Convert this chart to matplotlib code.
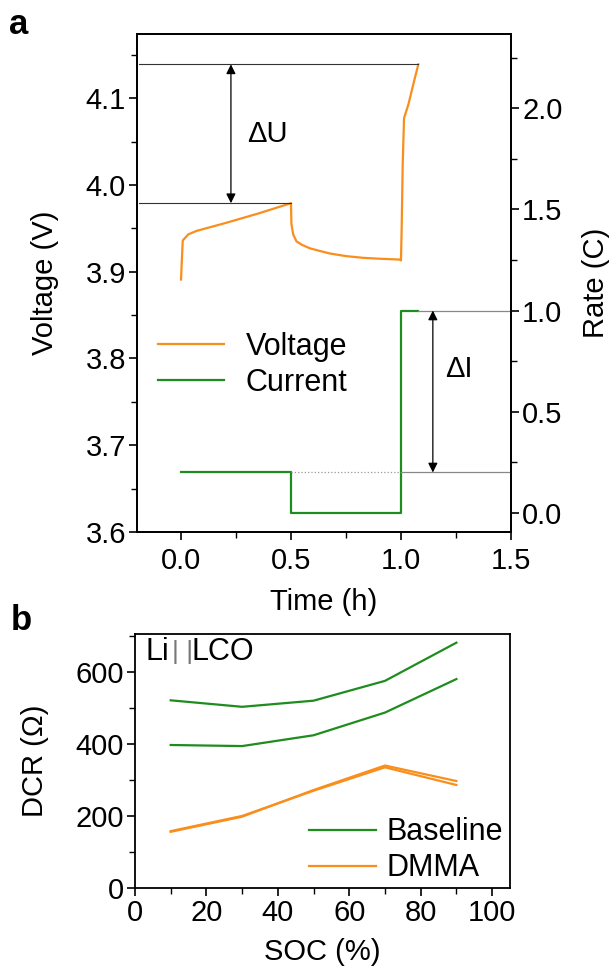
import matplotlib.pyplot as plt
from matplotlib.ticker import MultipleLocator

plt.rcParams['font.family'] = ['Liberation Sans', 'DejaVu Sans']
plt.rcParams['font.size'] = 21

orange = '#F98E1D'
green = '#1E8C1E'

# panel a: voltage / current vs time
t_volt = [0.0, 0.008, 0.033, 0.07, 0.2, 0.35, 0.5, 0.502, 0.51, 0.525, 0.55, 0.586,
          0.63, 0.677, 0.75, 0.829, 0.9, 0.995, 1.0, 1.003, 1.008, 1.014, 1.034, 1.056, 1.079]
volt = [3.891, 3.936, 3.943, 3.947, 3.956, 3.967, 3.979, 3.955, 3.943, 3.935, 3.931, 3.927,
        3.924, 3.921, 3.918, 3.916, 3.915, 3.914, 3.913, 3.947, 4.024, 4.077, 4.093, 4.116, 4.139]

t_cur = [0.0, 0.5, 0.5, 1.0, 1.0, 1.079]
cur = [0.2, 0.2, 0.0, 0.0, 1.0, 1.0]

# panel b: DCR vs SOC
soc = [10, 30, 50, 70, 90]
base_1 = [521, 503, 520, 575, 681]
base_2 = [397, 394, 424, 487, 580]
dmma_1 = [156, 198, 272, 340, 297]
dmma_2 = [158, 200, 270, 335, 286]

fig = plt.figure(figsize=(6.13, 9.72), dpi=100)

ax = fig.add_axes([0.2235, 0.4527, 0.610, 0.5123])
ax2 = ax.twinx()

lv, = ax.plot(t_volt, volt, color=orange, lw=1.6)
lc, = ax2.plot(t_cur, cur, color=green, lw=1.6)

ax.set_xlim(-0.2, 1.5)
ax.set_ylim(3.6, 4.174)
ax2.set_ylim(-0.094, 2.366)

# delta U guide lines and arrow
ax.plot([-0.19, 1.079], [4.139, 4.139], color='#333333', lw=0.8)
ax.plot([-0.19, 0.5], [3.979, 3.979], color='#333333', lw=0.8)
ax.annotate('', xy=(0.227, 4.139), xytext=(0.227, 3.979),
            arrowprops=dict(arrowstyle='<|-|>', color='black', lw=0.9, mutation_scale=14,
                            shrinkA=0, shrinkB=0))
ax.text(0.3, 4.059, 'ΔU', fontsize=21, va='center', ha='left')

# delta I guide lines and arrow
ax2.plot([1.079, 1.5], [1.0, 1.0], color='#888888', lw=0.9)
ax2.plot([1.0, 1.5], [0.2, 0.2], color='#888888', lw=0.9)
ax2.plot([0.5, 1.0], [0.2, 0.2], color='#999999', lw=0.9, ls=':')
ax2.annotate('', xy=(1.145, 1.0), xytext=(1.145, 0.2),
             arrowprops=dict(arrowstyle='<|-|>', color='black', lw=0.9, mutation_scale=14,
                             shrinkA=0, shrinkB=0))
ax2.text(1.2, 0.71, 'ΔI', fontsize=21, va='center', ha='left')

ax.set_xticks([0.0, 0.5, 1.0, 1.5])
ax.set_xticklabels(['0.0', '0.5', '1.0', '1.5'])
ax.xaxis.set_minor_locator(MultipleLocator(0.25))
ax.set_yticks([3.6, 3.7, 3.8, 3.9, 4.0, 4.1])
ax.yaxis.set_minor_locator(MultipleLocator(0.05))
ax2.set_yticks([0.0, 0.5, 1.0, 1.5, 2.0])
ax2.yaxis.set_minor_locator(MultipleLocator(0.25))

for a in (ax, ax2):
    a.tick_params(which='major', direction='out', length=6, width=1.2, labelsize=21, pad=2)
    a.tick_params(which='minor', direction='out', length=4, width=1.0)
    for s in a.spines.values():
        s.set_linewidth(1.3)
ax.tick_params(axis='x', which='both', top=False)
ax.tick_params(axis='x', which='major', pad=5)

ax.set_xlabel('Time (h)', fontsize=21, labelpad=9)
ax.set_ylabel('Voltage (V)', fontsize=21, labelpad=19)
ax2.set_ylabel('Rate (C)', fontsize=21, labelpad=14)

ax.legend([lv, lc], ['Voltage', 'Current'], loc='upper left', bbox_to_anchor=(0.0, 0.445),
          frameon=False, fontsize=22, handlelength=2.15, handletextpad=0.7,
          labelspacing=0.2, borderaxespad=0.3)

fig.text(0.015, 0.975, 'a', fontsize=25, fontweight='bold', va='center')

# panel b
bx = fig.add_axes([0.2202, 0.0864, 0.6117, 0.2613])
bx.plot(soc, base_1, color=green, lw=1.6, label='Baseline')
bx.plot(soc, base_2, color=green, lw=1.6)
bx.plot(soc, dmma_1, color=orange, lw=1.6, label='DMMA')
bx.plot(soc, dmma_2, color=orange, lw=1.6)

bx.set_xlim(0, 105)
bx.set_ylim(0, 705)
bx.set_xticks([0, 20, 40, 60, 80, 100])
bx.xaxis.set_minor_locator(MultipleLocator(10))
bx.set_yticks([0, 200, 400, 600])
bx.yaxis.set_minor_locator(MultipleLocator(100))
bx.tick_params(which='major', direction='out', length=6, width=1.2, labelsize=21, pad=2)
bx.tick_params(which='minor', direction='out', length=4, width=1.0)
for s in bx.spines.values():
    s.set_linewidth(1.3)

bx.set_xlabel('SOC (%)', fontsize=21, labelpad=8)
bx.set_ylabel('DCR (Ω)', fontsize=21, labelpad=19)
bx.text(0.027, 0.93, 'Li', transform=bx.transAxes, fontsize=22, va='center', ha='left')
bx.text(0.100, 0.93, '| |', transform=bx.transAxes, fontsize=19, va='center', ha='left',
        color='#777777', fontweight='light')
bx.text(0.152, 0.93, 'LCO', transform=bx.transAxes, fontsize=22, va='center', ha='left')
bx.legend(loc='lower right', bbox_to_anchor=(1.015, -0.03), frameon=False, fontsize=22,
          handlelength=2.2, handletextpad=0.35, labelspacing=0.2, borderaxespad=0.0)

fig.text(0.018, 0.362, 'b', fontsize=25, fontweight='bold', va='center')

fig.savefig('out.png', dpi=100)
